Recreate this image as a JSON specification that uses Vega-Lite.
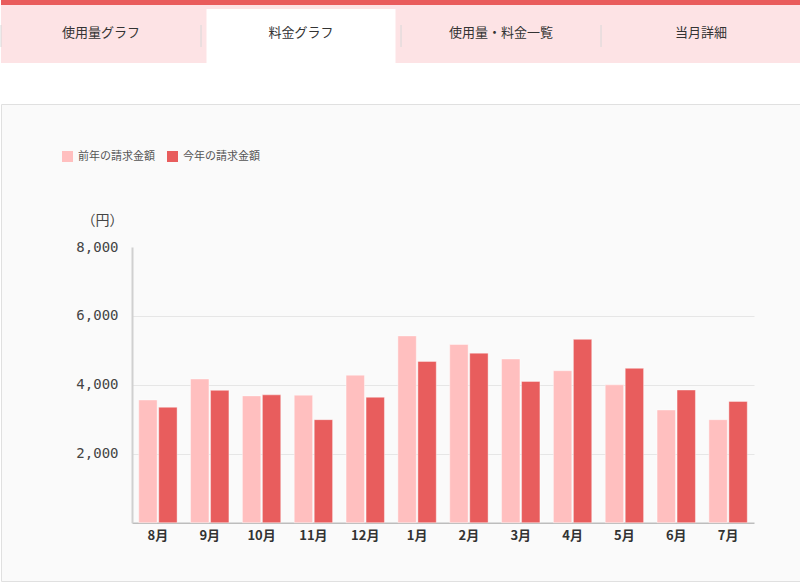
{
  "$schema": "https://vega.github.io/schema/vega-lite/v6.json",
  "padding": 0,
  "spacing": 40,
  "background": "#ffffff",
  "config": {"font": "Noto Sans CJK JP", "view": {"stroke": null}},
  "vconcat": [
    {
      "width": 800,
      "height": 63,
      "view": {"fill": "#fde3e5", "stroke": null},
      "data": {
        "values": [
          {"tab": "使用量グラフ", "active": false},
          {"tab": "料金グラフ", "active": true},
          {"tab": "使用量・料金一覧", "active": false},
          {"tab": "当月詳細", "active": false}
        ]
      },
      "encoding": {
        "x": {"field": "tab", "type": "nominal", "sort": null, "axis": null, "scale": {"paddingInner": 0, "paddingOuter": 0}}
      },
      "layer": [
        {
          "mark": {"type": "bar", "color": "#e95c5c"},
          "encoding": {
            "y": {"datum": 0, "type": "quantitative", "axis": null, "scale": {"domain": [0, 63], "reverse": true, "nice": false, "zero": false}},
            "y2": {"datum": 5}
          }
        },
        {
          "transform": [{"filter": "datum.active"}],
          "mark": {"type": "bar", "color": "#ffffff", "width": {"band": 0.945}},
          "encoding": {"y": {"datum": 9}, "y2": {"datum": 63}}
        },
        {
          "mark": {"type": "rule", "color": "#d8d8d8", "strokeWidth": 1},
          "encoding": {
            "x": {"field": "tab", "type": "nominal", "sort": null, "bandPosition": 0},
            "y": {"datum": 25},
            "y2": {"datum": 47}
          }
        },
        {
          "mark": {"type": "text", "fontSize": 13, "color": "#333333", "baseline": "middle"},
          "encoding": {"text": {"field": "tab"}, "y": {"datum": 32.5}}
        }
      ]
    },
    {
      "width": 803,
      "height": 477,
      "view": {"fill": "#fafafa", "stroke": "#e0e0e0", "strokeWidth": 1},
      "data": {
        "values": [
          {"month": "8月", "year": "前年の請求金額", "amount": 3560},
          {"month": "8月", "year": "今年の請求金額", "amount": 3350},
          {"month": "9月", "year": "前年の請求金額", "amount": 4170},
          {"month": "9月", "year": "今年の請求金額", "amount": 3840},
          {"month": "10月", "year": "前年の請求金額", "amount": 3680},
          {"month": "10月", "year": "今年の請求金額", "amount": 3710},
          {"month": "11月", "year": "前年の請求金額", "amount": 3700},
          {"month": "11月", "year": "今年の請求金額", "amount": 2990},
          {"month": "12月", "year": "前年の請求金額", "amount": 4280},
          {"month": "12月", "year": "今年の請求金額", "amount": 3640},
          {"month": "1月", "year": "前年の請求金額", "amount": 5420},
          {"month": "1月", "year": "今年の請求金額", "amount": 4680},
          {"month": "2月", "year": "前年の請求金額", "amount": 5170},
          {"month": "2月", "year": "今年の請求金額", "amount": 4920},
          {"month": "3月", "year": "前年の請求金額", "amount": 4750},
          {"month": "3月", "year": "今年の請求金額", "amount": 4100},
          {"month": "4月", "year": "前年の請求金額", "amount": 4410},
          {"month": "4月", "year": "今年の請求金額", "amount": 5320},
          {"month": "5月", "year": "前年の請求金額", "amount": 4000},
          {"month": "5月", "year": "今年の請求金額", "amount": 4480},
          {"month": "6月", "year": "前年の請求金額", "amount": 3270},
          {"month": "6月", "year": "今年の請求金額", "amount": 3850},
          {"month": "7月", "year": "前年の請求金額", "amount": 2990},
          {"month": "7月", "year": "今年の請求金額", "amount": 3520}
        ]
      },
      "mark": {"type": "bar", "stroke": "#ffffff", "strokeOpacity": 0.4, "strokeWidth": 1},
      "encoding": {
        "x": {
          "field": "month", "type": "nominal", "sort": null,
          "scale": {"range": [131, 753], "paddingInner": 0.26, "paddingOuter": 0.13},
          "axis": {
            "title": null, "orient": "bottom", "offset": -58.3, "labelAngle": 0,
            "labelFontSize": 13, "labelFontWeight": "bold", "labelColor": "#333333", "labelPadding": 7,
            "ticks": false, "domainColor": "#bdbdbd", "domainWidth": 1.5
          }
        },
        "xOffset": {
          "field": "year", "type": "nominal", "sort": ["前年の請求金額", "今年の請求金額"],
          "scale": {"paddingInner": 0.08}
        },
        "y": {
          "field": "amount", "type": "quantitative",
          "scale": {"domain": [0, 8000], "range": [418.7, 143], "nice": false},
          "axis": {
            "values": [2000, 4000, 6000, 8000], "format": ",d", "offset": -131,
            "ticks": false, "labelPadding": 14, "labelFont": "DejaVu Sans Mono", "labelFontSize": 14, "labelColor": "#444444",
            "domainColor": "#d0d0d0", "domainWidth": 2,
            "gridColor": {"condition": {"test": "datum.value >= 8000", "value": "transparent"}, "value": "#e6e6e6"},
            "title": "（円）", "titleAngle": 0, "titleX": -30, "titleY": 116,
            "titleAlign": "center", "titleBaseline": "middle", "titleFontSize": 14,
            "titleFontWeight": "normal", "titleColor": "#444444"
          }
        },
        "color": {
          "field": "year", "type": "nominal",
          "scale": {"domain": ["前年の請求金額", "今年の請求金額"], "range": ["#ffbfbf", "#e85d5d"]},
          "legend": {
            "title": null, "orient": "none", "legendX": 61, "legendY": 151, "direction": "horizontal",
            "symbolType": "square", "symbolSize": 121, "symbolStrokeWidth": 0,
            "labelFontSize": 11, "labelColor": "#555555", "columnPadding": 12, "labelOffset": 5
          }
        }
      }
    }
  ]
}
